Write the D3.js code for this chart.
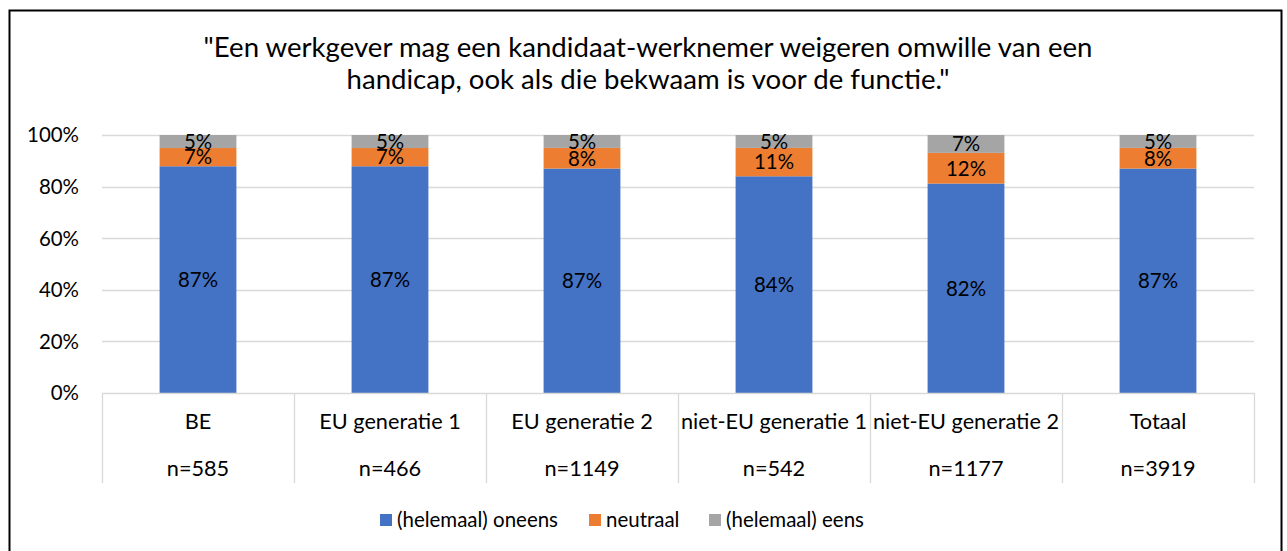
<!DOCTYPE html>
<html>
<head>
<meta charset="utf-8">
<script src="https://cdn.jsdelivr.net/npm/d3@7"></script>
<style>
  html, body { margin: 0; padding: 0; background: #fff; }
  svg { display: block; font-family: Lato, "Open Sans", sans-serif; }
</style>
</head>
<body>
<div id="chart"></div>
<script>
// data
const categories = ['BE', 'EU generatie 1', 'EU generatie 2', 'niet-EU generatie 1', 'niet-EU generatie 2', 'Totaal'];
const sampleSizes = ['n=585', 'n=466', 'n=1149', 'n=542', 'n=1177', 'n=3919'];
const seriesNames = ['(helemaal) oneens', 'neutraal', '(helemaal) eens'];
const oneens = [87, 87, 87, 84, 82, 87];
const neutraal = [7, 7, 8, 11, 12, 8];
const eens = [5, 5, 5, 5, 7, 5];
const yTicks = [0, 0.2, 0.4, 0.6, 0.8, 1];
const titleLines = ['"Een werkgever mag een kandidaat-werknemer weigeren omwille van een',
                    'handicap, ook als die bekwaam is voor de functie."'];

const colors = ['#4472C4', '#ED7D31', '#A5A5A5'];
const W = 1287, H = 551;
const plot = { left: 102, right: 1254, top: 135, bottom: 393 };

const svg = d3.select('#chart').append('svg')
    .attr('width', W).attr('height', H);

// font size so that a sample string gets the width seen in the reference
function fitSize(text, width) {
    const t = svg.append('text').attr('font-size', 100).text(text);
    const len = t.node().getComputedTextLength();
    t.remove();
    return 100 * width / len;
}
const titleSize = fitSize(titleLines[0], 889);
const catSize = fitSize('niet-EU generatie 1', 186);
const tickSize = fitSize('100%', 52);
const labelSize = fitSize('87%', 40);
const legendSize = fitSize(seriesNames[0], 161);

// frame
svg.append('rect')
    .attr('x', 9.5).attr('y', 10.5)
    .attr('width', 1272).attr('height', 560)
    .attr('fill', 'none').attr('stroke', '#000').attr('stroke-width', 2);

// title
svg.append('g').selectAll('text').data(titleLines).join('text')
    .attr('x', 648).attr('y', (d, i) => 57 + i * 32)
    .attr('text-anchor', 'middle')
    .attr('font-size', titleSize)
    .attr('fill', '#000')
    .text(d => d);

const rows = categories.map((c, i) => ({ cat: c, 0: oneens[i], 1: neutraal[i], 2: eens[i] }));
const stack = d3.stack().keys([0, 1, 2]).offset(d3.stackOffsetExpand);
const series = stack(rows);

const x = d3.scaleBand().domain(categories).range([plot.left, plot.right]).paddingInner(0).paddingOuter(0);
const y = d3.scaleLinear().domain([0, 1]).range([plot.bottom, plot.top]);

// grid
svg.append('g').selectAll('line').data(yTicks.filter(t => t > 0)).join('line')
    .attr('x1', plot.left).attr('x2', plot.right)
    .attr('y1', d => Math.round(y(d)) + 0.5).attr('y2', d => Math.round(y(d)) + 0.5)
    .attr('stroke', '#D9D9D9').attr('stroke-width', 1.3);

// y labels
svg.append('g').selectAll('text').data(yTicks).join('text')
    .attr('x', 79).attr('y', d => y(d) + tickSize * 0.36)
    .attr('text-anchor', 'end')
    .attr('font-size', tickSize)
    .attr('fill', '#000')
    .text(d3.format('.0%'));

// bars
const barW = x.bandwidth() * 0.4;
const layers = svg.append('g').selectAll('g').data(series).join('g')
    .attr('fill', (d, i) => colors[i]);
layers.selectAll('rect').data(d => d).join('rect')
    .attr('x', d => x(d.data.cat) + (x.bandwidth() - barW) / 2)
    .attr('width', barW)
    .attr('y', d => y(d[1]))
    .attr('height', d => y(d[0]) - y(d[1]));

// data labels
const labelVals = [oneens, neutraal, eens];
layers.each(function(s, si) {
    d3.select(this).selectAll('text').data(s).join('text')
        .attr('x', d => x(d.data.cat) + x.bandwidth() / 2)
        .attr('y', d => (y(d[0]) + y(d[1])) / 2 + labelSize * 0.36)
        .attr('text-anchor', 'middle')
        .attr('font-size', labelSize)
        .attr('fill', '#000')
        .text((d, i) => labelVals[si][i] + '%');
});

// category axis (multi-level)
const axis = svg.append('g').attr('stroke', '#D9D9D9').attr('stroke-width', 1.3);
axis.append('line')
    .attr('x1', plot.left).attr('x2', plot.right)
    .attr('y1', plot.bottom + 0.5).attr('y2', plot.bottom + 0.5);
const bounds = categories.map(c => x(c)).concat([plot.right]);
axis.selectAll('line.sep').data(bounds).join('line')
    .attr('class', 'sep')
    .attr('x1', d => Math.round(d) + 0.5).attr('x2', d => Math.round(d) + 0.5)
    .attr('y1', plot.bottom).attr('y2', 483);

svg.append('g').selectAll('text').data(categories).join('text')
    .attr('x', d => x(d) + x.bandwidth() / 2).attr('y', 421 + catSize * 0.36)
    .attr('text-anchor', 'middle').attr('font-size', catSize).attr('fill', '#000')
    .text(d => d);
svg.append('g').selectAll('text').data(sampleSizes).join('text')
    .attr('x', (d, i) => x(categories[i]) + x.bandwidth() / 2).attr('y', 468 + catSize * 0.36)
    .attr('text-anchor', 'middle').attr('font-size', catSize).attr('fill', '#000')
    .text(d => d);

// legend
const legendX = [380, 589, 709];
const legend = svg.append('g').selectAll('g').data(seriesNames).join('g')
    .attr('transform', (d, i) => `translate(${legendX[i]},520)`);
legend.append('rect').attr('x', 0).attr('y', -6).attr('width', 12).attr('height', 12)
    .attr('fill', (d, i) => colors[i]);
legend.append('text').attr('x', 17).attr('y', legendSize * 0.36)
    .attr('font-size', legendSize).attr('fill', '#000')
    .text(d => d);
</script>
</body>
</html>
